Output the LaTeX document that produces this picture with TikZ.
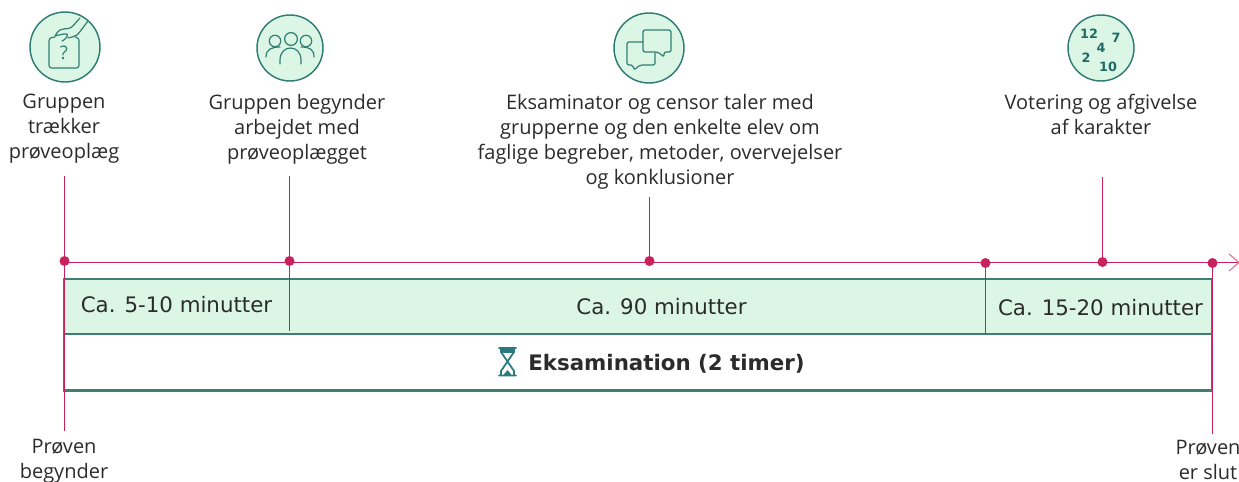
\documentclass[tikz,border=0pt]{standalone}
\usepackage{fontspec}
\setmainfont{Open Sans}
\newfontfamily\boxfont{DejaVu Sans}
\usetikzlibrary{arrows.meta}
\definecolor{mint}{HTML}{DCF6E5}
\definecolor{deepgreen}{HTML}{3F7F73}
\definecolor{icongreen}{HTML}{2F7D74}
\definecolor{gradegreen}{HTML}{1F6A66}
\definecolor{glass}{HTML}{2A7A80}
\definecolor{magent}{HTML}{C8215D}
\definecolor{inktext}{HTML}{2B2B2B}
\tikzset{
  x=0.75pt,y=-0.75pt,
  iconcirc/.style={circle,draw=icongreen,fill=mint,line width=1.1pt,inner sep=0pt,minimum size=#1*0.75pt},
  iconline/.style={draw=icongreen,line width=0.9pt,line cap=round,line join=round},
  dotnode/.style={circle,fill=magent,inner sep=0pt,minimum size=7.5pt},
  tick/.style={draw=magent,line width=0.85pt},
  caption/.style={align=center,text=inktext,font=\fontsize{15pt}{18.75pt}\selectfont,inner sep=0pt},
  greenbar/.style={draw=deepgreen,fill=mint,line width=1.2pt,inner sep=0pt,minimum width=861pt,minimum height=41.5pt},
  whitebar/.style={draw=deepgreen,fill=white,line width=1.2pt,inner sep=0pt,minimum width=861pt,minimum height=42pt},
  boxlabel/.style={text=inktext,font=\boxfont\fontsize{16pt}{18pt}\selectfont,inner sep=0pt},
  gradelabel/.style={text=gradegreen,font=\boxfont\bfseries\fontsize{9.6pt}{10pt}\selectfont,inner sep=0pt},
}
\begin{document}
\begin{tikzpicture}
\useasboundingbox (0,0) rectangle (1239,482);
% bars
\node[greenbar] (gbar) at (638,306.5) {};
\node[whitebar] (wbar) at (638,362) {};
\draw[deepgreen,line width=2pt] (wbar.south west) -- (wbar.south east);
% free ends
\coordinate (t0) at (64.5,176);
\coordinate (b0) at (64.5,431);
\coordinate (t1) at (289.5,176);
\coordinate (b1) at (289.5,331);
\coordinate (t2) at (649.5,197);
\coordinate (b3) at (985.5,334);
\coordinate (t4) at (1102.5,177);
\coordinate (b5) at (1212.5,434);
\coordinate (tlstart) at (64,262.5);
\coordinate (tlend) at (1239,262.5);
% dots
\node[dotnode] (d0) at (64.5,261) {};
\node[dotnode] (d1) at (289.5,261) {};
\node[dotnode] (d2) at (649.5,261) {};
\node[dotnode] (d3) at (985.5,263) {};
\node[dotnode] (d4) at (1102.5,262) {};
\node[dotnode] (d5) at (1212.5,263) {};
% timeline
\draw[tick] (tlstart) -- (tlend);
\draw[draw=magent!65,line width=0.8pt,line cap=round] (1229,254) -- (tlend) -- (1229,271);
\draw[tick] (t0) -- (b0);
\draw[tick] (t1) -- (b1);
\draw[tick] (t2) -- (d2);
\draw[tick] (d3) -- (b3);
\draw[tick] (t4) -- (d4);
\draw[tick] (d5) -- (b5);
% top captions
\node[caption] (c0) at (64,129) {Gruppen\\trækker\\prøveoplæg};
\node[caption] (c1) at (297,129) {Gruppen begynder\\arbejdet med\\prøveoplægget};
\node[caption] (c2) at (660,142) {Eksaminator og censor taler med\\grupperne og den enkelte elev om\\faglige begreber, metoder, overvejelser\\og konklusioner};
\node[caption] (c4) at (1101,114.5) {Votering og afgivelse\\af karakter};
\node[caption] (c5) at (64,461) {Prøven\\begynder};
\node[caption] (c6) at (1208,460) {Prøven\\er slut};
% bar labels
\node[boxlabel] (l1) at (176.5,305) {Ca. 5-10 minutter};
\node[boxlabel] (l2) at (661.5,307) {Ca. 90 minutter};
\node[boxlabel] (l3) at (1100.5,308) {Ca. 15-20 minutter};
\node[boxlabel,font=\boxfont\bfseries\fontsize{16pt}{18pt}\selectfont] (l4) at (666.5,364) {Eksamination (2 timer)};
% hourglass
\draw[glass,line width=1.3pt,line cap=round,line join=round]
  (499,348) -- (516,348) (499,375.5) -- (516,375.5)
  (501,348) -- (501,352) -- (507.5,361.5) -- (501,371) -- (501,375.5)
  (514,348) -- (514,352) -- (507.5,361.5) -- (514,371) -- (514,375.5);
\fill[glass] (501,348) -- (514,348) -- (514,353) -- (501,353) -- cycle;
\fill[glass] (507.5,370) -- (512,375.5) -- (503,375.5) -- cycle;
% icon 1
\node[iconcirc=70] (i1) at (65,47) {};
\draw[iconline,rounded corners=2pt] (55,37) -- (49,38) -- (49,68) -- (79,68) -- (79,38) -- (75,37);
\node[text=icongreen,inner sep=0pt,font=\fontsize{14pt}{14pt}\selectfont] (q1) at (64,53) {?};
\draw[iconline] (80,18) .. controls (76,22) and (73,27) .. (70,28)
  .. controls (66,29.5) and (63,28) .. (60,30)
  .. controls (58,31) and (56,34) .. (55,36)
  .. controls (59,35) and (64,33.5) .. (67,34)
  .. controls (69,35) and (65,40) .. (62,41)
  (88,21) .. controls (84,26) and (81,31) .. (77,35)
  .. controls (74,37) and (71,37) .. (68,38);
% icon 2
\node[iconcirc=66] (i2) at (290,48) {};
\draw[iconline] (275,41) circle[radius=4.3pt];
\draw[iconline] (291,39) circle[radius=4.8pt];
\draw[iconline] (306,41) circle[radius=4.3pt];
\draw[iconline] (280,64) -- (280,60) .. controls (280,44) and (301,44) .. (301,60) -- (301,64);
\draw[iconline] (266,57) .. controls (266,49) and (272,47) .. (280,47);
\draw[iconline] (314,57) .. controls (314,49) and (309,47) .. (301,47);
% icon 3
\node[iconcirc=70] (i3) at (649,48) {};
\draw[iconline,rounded corners=1.5pt] (643,42) -- (627,42) -- (627,65) -- (633,65) -- (634,70) -- (640,65) -- (655,65) -- (655,53);
\draw[iconline,rounded corners=1.5pt] (643,30) -- (671,30) -- (671,52) -- (664,52) -- (664,57) -- (658,52) -- (643,52) -- cycle;
% icon 4
\node[iconcirc=66] (i4) at (1101,48) {};
\node[gradelabel] (g12) at (1089,34) {12};
\node[gradelabel] (g7) at (1116,38) {7};
\node[gradelabel] (g4) at (1101,48) {4};
\node[gradelabel] (g2) at (1086,58) {2};
\node[gradelabel] (g10) at (1108,67) {10};
\end{tikzpicture}
\end{document}
